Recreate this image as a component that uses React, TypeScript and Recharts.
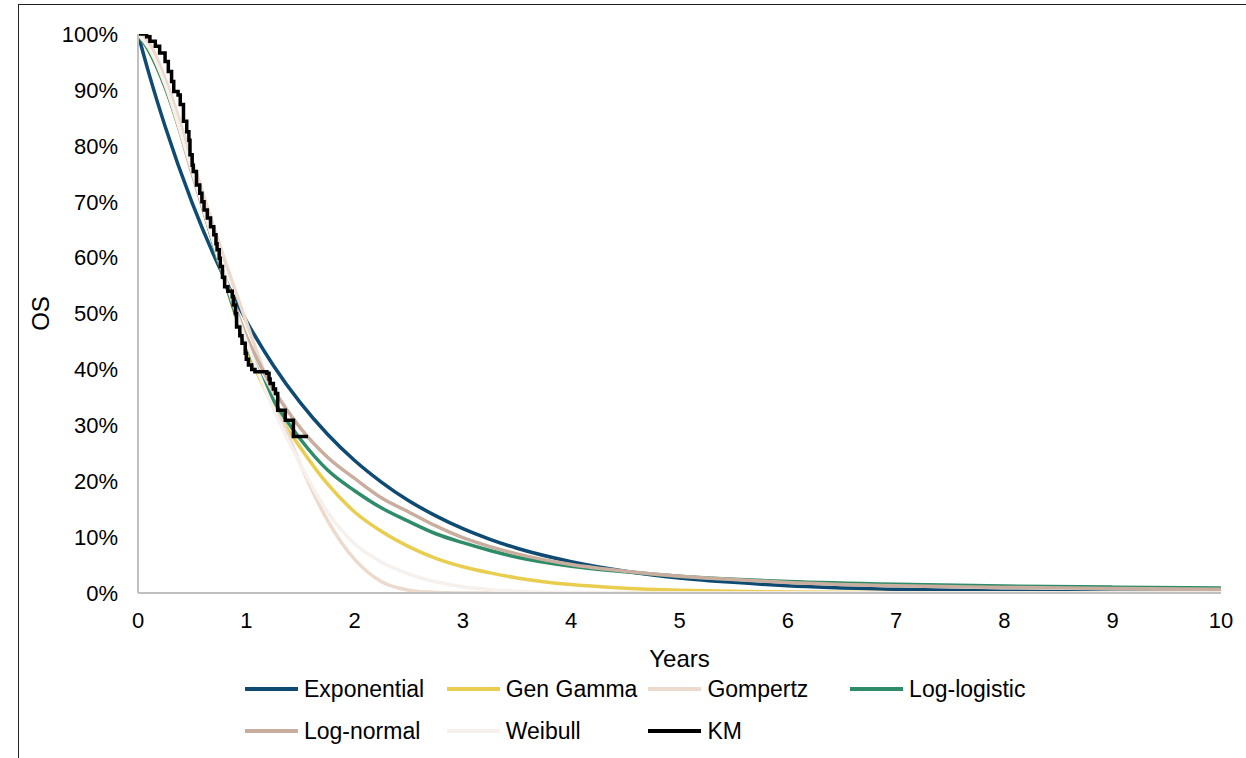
import React from 'react';
import { LineChart, Line, XAxis, YAxis } from 'recharts';

// Time grid (years) for the fitted curves
const FIT_T = [0, 0.1, 0.25, 0.5, 0.75, 1, 1.25, 1.5, 1.75, 2, 2.25, 2.5, 2.75, 3, 3.25, 3.5, 4, 4.5, 5, 5.5, 6, 7, 8, 9, 10];

// Survival (%) per fitted model at FIT_T
const EXPONENTIAL = [100, 93.0, 83.5, 69.8, 58.3, 48.7, 40.7, 34.0, 28.4, 23.7, 19.8, 16.5, 13.8, 11.5, 9.6, 8.0, 5.6, 3.9, 2.7, 1.9, 1.3, 0.65, 0.32, 0.15, 0.07];
const GEN_GAMMA = [100, 97, 90.5, 75.5, 59, 44, 33.5, 26, 19.5, 14.5, 11, 8.3, 6.2, 4.7, 3.6, 2.7, 1.5, 0.85, 0.5, 0.3, 0.17, 0.06, 0.02, 0.01, 0];
const GOMPERTZ = [100, 98.5, 92, 77.5, 62.5, 48.5, 35, 23, 13, 6, 2, 0.5, 0.1, 0.02, 0, 0, 0, 0, 0, 0, 0, 0, 0, 0, 0];
const LOG_LOGISTIC = [100, 97, 90.5, 75.5, 59, 44.5, 34.5, 27.5, 22, 18.3, 15.2, 12.8, 10.6, 9.0, 7.6, 6.4, 4.8, 3.8, 3.0, 2.45, 2.05, 1.55, 1.25, 1.05, 0.9];
const LOG_NORMAL = [100, 97.5, 91, 75, 59.5, 46, 36.5, 29.5, 24.3, 20.5, 17, 14.5, 12, 9.9, 8.3, 7.0, 5.1, 3.9, 3.0, 2.4, 1.9, 1.3, 1.0, 0.8, 0.65];
const WEIBULL = [100, 97.5, 91, 75.5, 59.5, 45, 33, 23, 14.5, 8.8, 5.5, 3.4, 2.0, 1.1, 0.6, 0.3, 0.08, 0.02, 0, 0, 0, 0, 0, 0, 0];

// Kaplan-Meier step points: time (years) and survival (%) after that time
const KM_T = [0, 0.08, 0.11, 0.16, 0.2, 0.25, 0.28, 0.31, 0.33, 0.37, 0.39, 0.42, 0.45, 0.47, 0.48, 0.5, 0.51, 0.54, 0.57, 0.59, 0.61, 0.64, 0.67, 0.7, 0.72, 0.73, 0.75, 0.76, 0.78, 0.8, 0.83, 0.87, 0.88, 0.9, 0.91, 0.94, 0.96, 0.99, 1.0, 1.02, 1.05, 1.08, 1.19, 1.21, 1.22, 1.25, 1.27, 1.29, 1.36, 1.435, 1.57];
const KM_S = [100, 99.5, 98.7, 97.8, 96.6, 95.1, 93.3, 91.5, 89.7, 89.1, 87.4, 84.4, 82.5, 81.0, 78.4, 76.5, 75.4, 73.0, 71.5, 70.0, 68.5, 67.1, 65.5, 64.1, 62.5, 61.4, 59.9, 58.4, 56.5, 54.8, 54.0, 53.0, 51.5, 50.0, 47.6, 46.0, 44.7, 42.9, 41.8, 40.8, 40.0, 39.6, 39.3, 38.3, 37.5, 36.5, 35.7, 32.7, 30.9, 28.0, 28.0];

const X_TICKS = [0, 1, 2, 3, 4, 5, 6, 7, 8, 9, 10];
const Y_TICKS = [0, 10, 20, 30, 40, 50, 60, 70, 80, 90, 100];

const SERIES = [
  { key: 'Exponential', values: EXPONENTIAL, color: '#0e4a72' },
  { key: 'Gen Gamma', values: GEN_GAMMA, color: '#e9cd4f' },
  { key: 'Gompertz', values: GOMPERTZ, color: '#ecdacd' },
  { key: 'Log-logistic', values: LOG_LOGISTIC, color: '#2f8c69' },
  { key: 'Log-normal', values: LOG_NORMAL, color: '#c9ae9f' },
  { key: 'Weibull', values: WEIBULL, color: '#f6f1ed' },
];
const KM_COLOR = '#000000';

const fitData = FIT_T.map((t, i) => {
  const row: Record<string, number> = { t };
  SERIES.forEach((s) => {
    row[s.key] = s.values[i];
  });
  return row;
});
const kmData = KM_T.map((t, i) => ({ t, KM: KM_S[i] }));

const LEGEND_ITEMS = [...SERIES.map((s) => ({ name: s.key, color: s.color })), { name: 'KM', color: KM_COLOR }];

const FONT = '"Liberation Sans", Arial, sans-serif';

export default function App() {
  return (
    <div style={{ position: 'absolute', left: 0, top: 0, width: 1246, height: 758, overflow: 'hidden', background: '#fff', fontFamily: FONT }}>
      <div style={{ position: 'absolute', left: 18, top: 4, width: 1300, height: 800, borderTop: '1.5px solid #222', borderLeft: '1.5px solid #222' }} />
      <div style={{ position: 'absolute', left: 0, top: 0 }}>
        <LineChart width={1246} height={758} data={fitData} margin={{ top: 34, right: 25, bottom: 135, left: 58 }}>
          <XAxis
            type="number"
            dataKey="t"
            domain={[0, 10]}
            ticks={X_TICKS}
            allowDataOverflow
            stroke="#c0c0c0"
            strokeWidth={2}
            tickLine={false}
            tickSize={0}
            tickMargin={19}
            height={30}
            tick={{ fill: '#000', fontSize: 22, fontFamily: FONT }}
            label={{ value: 'Years', position: 'insideBottom', offset: -44, fill: '#000', fontSize: 24, fontFamily: FONT }}
          />
          <YAxis
            type="number"
            domain={[0, 100]}
            ticks={Y_TICKS}
            allowDataOverflow
            stroke="#c0c0c0"
            strokeWidth={2}
            tickLine={false}
            tickSize={0}
            tickMargin={20}
            width={80}
            tickFormatter={(v: number) => `${v}%`}
            tick={{ fill: '#000', fontSize: 22, fontFamily: FONT }}
            label={{ value: 'OS', angle: -90, position: 'insideLeft', offset: -18, fill: '#000', fontSize: 24, fontFamily: FONT, style: { textAnchor: 'middle' } }}
          />
          {SERIES.map((s) => (
            <Line
              key={s.key}
              dataKey={s.key}
              type="monotone"
              stroke={s.color}
              strokeWidth={3.5}
              dot={false}
              activeDot={false}
              isAnimationActive={false}
            />
          ))}
          <Line
            data={kmData}
            dataKey="KM"
            type="stepAfter"
            stroke={KM_COLOR}
            strokeWidth={3.5}
            dot={false}
            activeDot={false}
            isAnimationActive={false}
          />
        </LineChart>
      </div>
      {LEGEND_ITEMS.map((item, i) => {
        const col = i % 4;
        const row = Math.floor(i / 4);
        const left = 245 + col * 201.7;
        const cy = 689 + row * 42;
        return (
          <div key={item.name} style={{ position: 'absolute', left, top: cy - 15, height: 30, display: 'flex', alignItems: 'center', whiteSpace: 'nowrap' }}>
            <div style={{ width: 53, height: 4, background: item.color, marginRight: 6 }} />
            <span style={{ fontSize: 23, color: '#000', fontFamily: FONT }}>{item.name}</span>
          </div>
        );
      })}
    </div>
  );
}
